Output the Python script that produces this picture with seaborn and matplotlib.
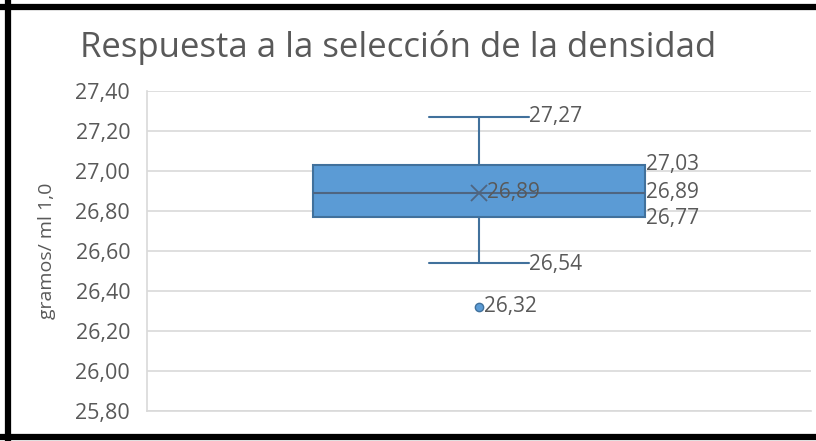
import numpy as np
import pandas as pd
import matplotlib
matplotlib.use("Agg")
import matplotlib.pyplot as plt
from matplotlib.ticker import FuncFormatter, MultipleLocator
from matplotlib.lines import Line2D
import seaborn as sns

# densidad (gramos / ml) - muestra que da los valores del gráfico
densidad = [26.32, 26.54, 26.77, 26.89, 26.89, 27.03, 27.03, 27.27, 27.27]

titulo = "Respuesta a la selección de la densidad"
eje_y = "gramos/ ml 1,0"

azul = "#5B9BD5"
borde = "#41719C"
gris_txt = "#595959"

sns.set_theme(style="whitegrid")
plt.rcParams["font.family"] = ["Open Sans", "DejaVu Sans"]


def coma(v, pos=None):
    return f"{v:.2f}".replace(".", ",")


df = pd.DataFrame({"densidad": densidad})

fig = plt.figure(figsize=(8.16, 4.41), dpi=100)
ax = fig.add_axes([0.180, 0.068, 0.814, 0.726])

sns.boxplot(data=df, y="densidad", ax=ax, width=0.5, color=azul,
            saturation=1, linecolor=borde, linewidth=1.5, whis=1.5,
            showmeans=True, capwidths=0.15,
            meanprops=dict(marker="x", markeredgecolor="#4f6580",
                           markersize=12, markeredgewidth=1.3),
            medianprops=dict(color="#4f6580", linewidth=1.5),
            flierprops=dict(marker="o", markerfacecolor=azul,
                            markeredgecolor=borde, markersize=6))

ax.set_xlim(-0.5, 0.5)
ax.set_ylim(25.8, 27.4)
ax.yaxis.set_major_locator(MultipleLocator(0.2))
ax.yaxis.set_major_formatter(FuncFormatter(coma))
ax.set_xticks([])
ax.set_xlabel("")
ax.grid(axis="y", color="#d9d9d9", linewidth=1.2)
ax.grid(axis="x", visible=False)
ax.tick_params(axis="y", length=0, pad=12, labelsize=15.5, labelcolor=gris_txt)
ax.set_ylabel(eje_y, fontsize=14, color=gris_txt, labelpad=14)
for s in ["top", "right"]:
    ax.spines[s].set_visible(False)
for s in ["left", "bottom"]:
    ax.spines[s].set_color("#d9d9d9")
    ax.spines[s].set_linewidth(1.2)

# etiquetas de datos
d = np.array(densidad)
q1, med, q3 = np.percentile(d, [25, 50, 75])
iqr = q3 - q1
dentro = d[(d >= q1 - 1.5 * iqr) & (d <= q3 + 1.5 * iqr)]
fuera = d[(d < q1 - 1.5 * iqr) | (d > q3 + 1.5 * iqr)]
media = d.mean()

kw = dict(fontsize=15, color=gris_txt, va="center", ha="left")
ax.text(0.075, dentro.max(), coma(dentro.max()), **kw)
ax.text(0.075, dentro.min() - 0.01, coma(dentro.min()), **kw)
ax.text(0.252, q3, coma(q3), **kw)
ax.text(0.252, med, coma(med), **kw)
ax.text(0.252, q1 - 0.01, coma(q1), **kw)
ax.text(0.012, media, coma(media), **kw)
for v in fuera:
    ax.text(0.008, v, coma(v), **kw)

fig.text(0.488, 0.893, titulo, fontsize=25, color=gris_txt,
         ha="center", va="center")

# marco negro
lw = 4.5
fig.add_artist(Line2D([0.0095, 0.0095], [0.0, 1.0], color="black", lw=lw))
fig.add_artist(Line2D([0.0, 1.0], [0.985, 0.985], color="black", lw=lw))
fig.add_artist(Line2D([0.0, 1.0], [0.008, 0.008], color="black", lw=lw))

fig.savefig("out.png", dpi=100)
